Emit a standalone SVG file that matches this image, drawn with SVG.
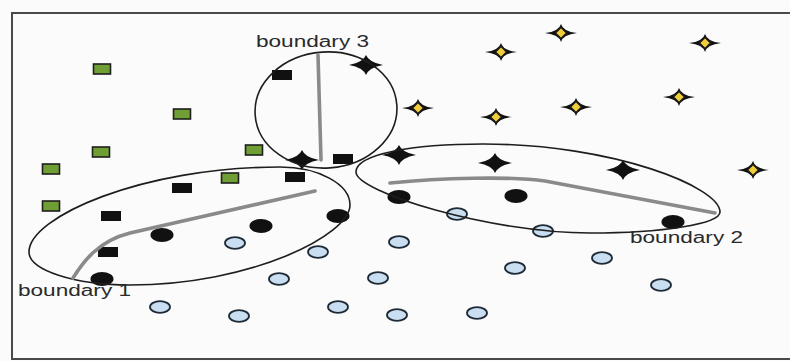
<svg xmlns="http://www.w3.org/2000/svg" xmlns:xlink="http://www.w3.org/1999/xlink" width="790" height="361" viewBox="0 0 790 361">
<style>
.frame{fill:none;stroke:#4a4a4a;stroke-width:2}
.bnd{fill:none;stroke:#1e1e1e;stroke-width:1.6}
.gline{fill:none;stroke:#8a8a8a;stroke-width:3.6;stroke-linecap:round;stroke-linejoin:round}
.lbl{font-family:"Liberation Sans",Arial,sans-serif;font-size:16px;fill:#2a2a2a}
.green{fill:#6e9e34;stroke:#1e1e1e;stroke-width:1.6}
.brect{fill:#111}
.bdot{fill:#111}
.blue{fill:#c9def0;stroke:#1e2a36;stroke-width:1.8}
.bstar{fill:#111}
.ydia{fill:#f0cd3a;stroke:#1a1a1a;stroke-width:1.2}
</style>
<defs>
<path id="star" d="M-17,0 Q-3,-2.5 0,-10 Q3,-2.5 17,0 Q3,2.5 0,10 Q-3,2.5 -17,0 Z"/>
<path id="tstar" d="M-16,0 Q-2,-1.5 0,-9 Q2,-1.5 16,0 Q2,1.5 0,9 Q-2,1.5 -16,0 Z"/>
<g id="ystar"><use xlink:href="#tstar" class="bstar"/><path class="ydia" d="M-5.5,0 L0,-5.5 L5.5,0 L0,5.5 Z"/></g>
<rect id="gr" x="-8.5" y="-5" width="17" height="10" class="green"/>
<rect id="br" x="-10" y="-5" width="20" height="10" class="brect"/>
<ellipse id="bd" rx="11.5" ry="7" class="bdot"/>
<ellipse id="bl" rx="10" ry="5.8" class="blue"/>
</defs>
<rect x="0" y="0" width="790" height="361" fill="#fbfbfb"/>
<rect class="frame" x="12" y="13" width="800" height="346"/>

<g id="green-squares">
<use xlink:href="#gr" x="102" y="69"/>
<use xlink:href="#gr" x="182" y="114"/>
<use xlink:href="#gr" x="101" y="152"/>
<use xlink:href="#gr" x="51" y="169"/>
<use xlink:href="#gr" x="254" y="150"/>
<use xlink:href="#gr" x="230" y="178"/>
<use xlink:href="#gr" x="51" y="206"/>
</g>
<g id="black-squares">
<use xlink:href="#br" x="282" y="75"/>
<use xlink:href="#br" x="343" y="159"/>
<use xlink:href="#br" x="295" y="177"/>
<use xlink:href="#br" x="182" y="188"/>
<use xlink:href="#br" x="111" y="216"/>
<use xlink:href="#br" x="108" y="252"/>
</g>
<g id="black-dots">
<use xlink:href="#bd" x="102" y="279"/>
<use xlink:href="#bd" x="162" y="235"/>
<use xlink:href="#bd" x="261" y="226"/>
<use xlink:href="#bd" x="338" y="216"/>
<use xlink:href="#bd" x="399" y="197"/>
<use xlink:href="#bd" x="516" y="196"/>
<use xlink:href="#bd" x="673" y="222"/>
</g>
<g id="blue-dots">
<use xlink:href="#bl" x="235" y="243"/>
<use xlink:href="#bl" x="318" y="252"/>
<use xlink:href="#bl" x="279" y="279"/>
<use xlink:href="#bl" x="378" y="278"/>
<use xlink:href="#bl" x="160" y="307"/>
<use xlink:href="#bl" x="239" y="316"/>
<use xlink:href="#bl" x="338" y="307"/>
<use xlink:href="#bl" x="397" y="315"/>
<use xlink:href="#bl" x="399" y="242"/>
<use xlink:href="#bl" x="457" y="214"/>
<use xlink:href="#bl" x="543" y="231"/>
<use xlink:href="#bl" x="515" y="268"/>
<use xlink:href="#bl" x="602" y="258"/>
<use xlink:href="#bl" x="661" y="285"/>
<use xlink:href="#bl" x="477" y="313"/>
</g>
<g id="black-stars" class="bstar">
<use xlink:href="#star" x="366" y="65"/>
<use xlink:href="#star" x="302" y="160"/>
<use xlink:href="#star" x="399" y="155"/>
<use xlink:href="#star" x="495" y="163"/>
<use xlink:href="#star" x="623" y="170"/>
</g>
<g id="yellow-stars">
<use xlink:href="#ystar" x="561" y="33"/>
<use xlink:href="#ystar" x="501" y="52"/>
<use xlink:href="#ystar" x="705" y="43"/>
<use xlink:href="#ystar" x="418" y="108"/>
<use xlink:href="#ystar" x="496" y="117"/>
<use xlink:href="#ystar" x="576" y="107"/>
<use xlink:href="#ystar" x="679" y="97"/>
<use xlink:href="#ystar" x="753" y="170"/>
</g>

<g id="boundary1">
<path class="bnd" d="M29,252 C29,217 142,167 280,167 C318,167 350,184 350,205 C350,235 251,285 130,285 C74,285 29,270 29,252 Z"/>
<path class="gline" d="M73,278 C83,262 98,241 130,233 L315,191"/>
<text class="lbl" x="18" y="296" textLength="113" lengthAdjust="spacingAndGlyphs">boundary 1</text>
</g>
<g id="boundary2">
<path class="bnd" d="M356,172 C356,154 413,144 483,144 C613,144 720,187 720,212 C720,224 662,233 590,233 C490,233 356,192 356,172 Z"/>
<path class="gline" d="M390,183 C440,178 510,176 545,181 L715,213"/>
<text class="lbl" x="630" y="243" textLength="113" lengthAdjust="spacingAndGlyphs">boundary 2</text>
</g>
<g id="boundary3">
<ellipse class="bnd" cx="326" cy="110" rx="71" ry="58" transform="rotate(-4 326 110)"/>
<path class="gline" d="M318,55 L321,160"/>
<text class="lbl" x="256" y="47" textLength="113" lengthAdjust="spacingAndGlyphs">boundary 3</text>
</g>
</svg>
